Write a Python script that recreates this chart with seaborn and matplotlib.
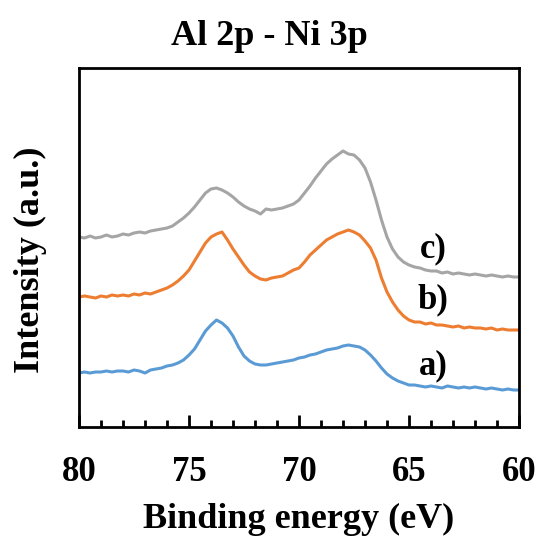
import numpy as np
import pandas as pd
import matplotlib
matplotlib.use("Agg")
import matplotlib.pyplot as plt
from matplotlib.ticker import MultipleLocator
import seaborn as sns

# Binding energy grid (eV), 80 -> 60 in 0.25 eV steps
energy = np.arange(80.0, 59.99, -0.25)

# c) grey spectrum (a.u.)
int_c = [203, 202, 204, 202, 203, 205, 203, 204, 206, 205, 207, 208, 207, 209, 210, 211,
         212, 214, 218, 222, 227, 233, 240, 247, 251, 252, 250, 247, 243, 238, 234, 231,
         229, 226, 231, 230, 231, 232, 234, 236, 240, 247, 254, 262, 269, 276, 281, 285,
         289, 286, 285, 280, 272, 258, 240, 220, 203, 191, 183, 178, 175, 173, 172, 170,
         169, 169, 167, 168, 166, 167, 166, 165, 166, 165, 164, 165, 164, 163, 164, 163, 163]

# b) orange spectrum (a.u.)
int_b = [143, 144, 143, 142, 144, 143, 145, 144, 145, 144, 146, 145, 147, 146, 148, 150,
         152, 155, 159, 164, 170, 179, 188, 197, 203, 206, 208, 200, 191, 183, 175, 168,
         164, 161, 160, 162, 163, 164, 167, 170, 172, 178, 185, 190, 195, 200, 203, 206,
         208, 210, 208, 205, 199, 192, 180, 162, 148, 138, 130, 124, 120, 118, 118, 116,
         117, 115, 115, 114, 113, 114, 112, 113, 112, 112, 111, 112, 110, 111, 110, 110, 110]

# a) blue spectrum (a.u.)
int_a = [67, 68, 67, 68, 68, 69, 68, 69, 69, 68, 70, 69, 67, 70, 71, 72,
         74, 75, 77, 80, 85, 91, 100, 109, 115, 120, 117, 112, 104, 93, 84, 79,
         76, 75, 75, 76, 77, 78, 79, 80, 82, 83, 85, 86, 88, 90, 91, 92,
         94, 95, 94, 93, 90, 85, 79, 72, 66, 62, 59, 57, 55, 55, 54, 53,
         54, 53, 52, 54, 53, 52, 53, 52, 53, 52, 51, 52, 51, 50, 51, 50, 50]

labels = ["a)", "b)", "c)"]
colors = ["#5B9BD5", "#ED7D31", "#A5A5A5"]
label_pos = [(63.9, 74), (63.9, 140), (63.9, 191)]

series = [int_a, int_b, int_c]
df = pd.concat([pd.DataFrame({"energy": energy, "intensity": s, "sample": lab})
                for s, lab in zip(series, labels)], ignore_index=True)

sns.set_theme(style="white")
plt.rcParams["font.family"] = ["Liberation Serif", "DejaVu Serif"]
plt.rcParams["font.weight"] = "bold"
plt.rcParams["text.color"] = "black"
plt.rcParams["axes.labelcolor"] = "black"
plt.rcParams["xtick.color"] = "black"
plt.rcParams["ytick.color"] = "black"

fig = plt.figure(figsize=(5.41, 5.41), dpi=100)
ax = fig.add_axes([79 / 541, 1 - 427 / 541, 440 / 541, 359 / 541])

sns.lineplot(data=df, x="energy", y="intensity", hue="sample", palette=colors,
             hue_order=labels, linewidth=2.2, legend=False, ax=ax, estimator=None,
             sort=False)

for lab, (xp, yp) in zip(labels, label_pos):
    ax.text(xp, yp, lab, fontsize=25, fontweight="bold", ha="center", va="center",
            color="black")

ax.set_xlim(80, 60)
ax.set_ylim(13, 372)
ax.xaxis.set_major_locator(MultipleLocator(5))
ax.xaxis.set_minor_locator(MultipleLocator(1))
ax.set_yticks([])
ax.tick_params(axis="x", which="major", direction="in", length=9, width=2,
               labelsize=25, pad=21, bottom=True, top=False, color="black",
               labelcolor="black")
ax.tick_params(axis="x", which="minor", direction="in", length=5, width=2,
               bottom=True, top=False, color="black")
for lbl in ax.get_xticklabels():
    lbl.set_fontweight("bold")
for sp in ax.spines.values():
    sp.set_color("black")
    sp.set_linewidth(2)

ax.set_xlabel("Binding energy (eV)", fontsize=26, fontweight="bold", labelpad=10,
              color="black")
ax.set_ylabel("Intensity (a.u.)", fontsize=26, fontweight="bold", labelpad=23,
              color="black")
ax.yaxis.label.set_y(0.465)
fig.text(0.497, 0.933, "Al 2p - Ni 3p", fontsize=26, fontweight="bold",
         ha="center", va="center", color="black")

fig.savefig("out.png", dpi=100)
